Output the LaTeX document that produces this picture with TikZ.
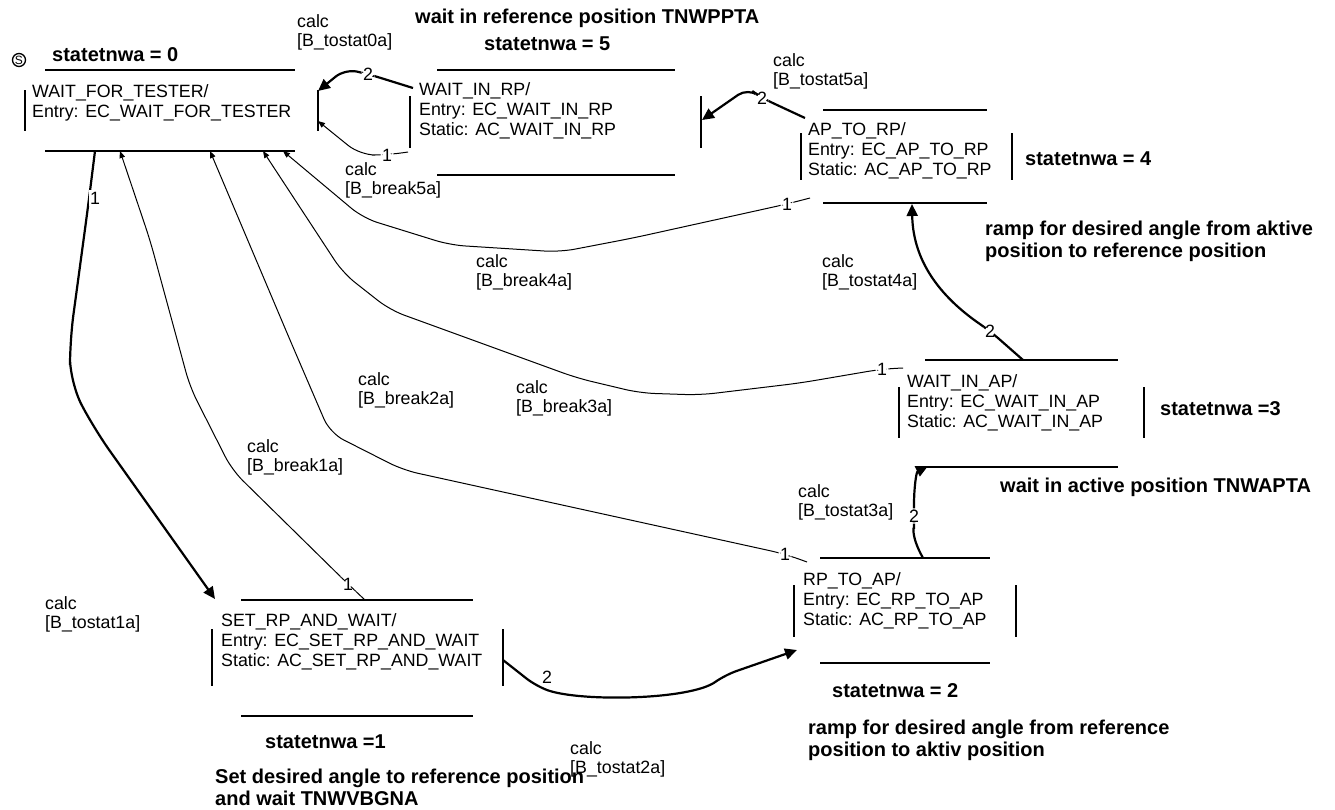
\documentclass[tikz,border=0pt]{standalone}
\usepackage{fontspec}
\setmainfont{Liberation Sans}
\usetikzlibrary{arrows.meta}

\begin{document}
\begin{tikzpicture}[x=1pt,y=-1pt,
		txt/.style={anchor=base west, align=left, inner sep=0pt, font=\fontsize{17.8}{20}\selectfont},
		lbl/.style={anchor=base west, align=left, inner sep=0pt, font=\fontsize{17.8}{19}\selectfont},
		hdr/.style={anchor=base west, align=left, inner sep=0pt, font=\fontsize{20}{22}\selectfont\bfseries},
		num/.style={fill=white, inner sep=1.5pt, font=\fontsize{17.8}{20}\selectfont},
		trans/.style={line width=1pt, rounded corners=15pt, -{Triangle[length=7pt,width=5.5pt]}},
		ttrans/.style={line width=2.2pt, rounded corners=12pt, -{Triangle[length=12pt,width=11pt]}}]
		\useasboundingbox (0,0) rectangle (1335,809);
		
		\foreach \xl/\xa/\xb/\xr/\yt/\yb/\ya/\yc in {
			25/45/295/318/70/151/90/131,
			410/437/675/701/70/175/96/148,
			801/823/987/1012/110/203/133/180,
			899/925/1118/1144/360/467/387/438,
			794/820/990/1016/558/663/585/637,
			212/241/473/503/600/716/629/686
		}{
			\draw[line width=1.2pt] (\xa,\yt) -- (\xb,\yt);
			\draw[line width=1.2pt] (\xa,\yb) -- (\xb,\yb);
			\draw[line width=1.2pt] (\xl,\ya) -- (\xl,\yc);
			\draw[line width=1.2pt] (\xr,\ya) -- (\xr,\yc);
		}
		
		\node[circle, draw, line width=1.3pt, inner sep=0pt, minimum size=13pt, font=\fontsize{12}{12}\selectfont] (start) at (19,60) {S};
		
		\node[txt] (wft) at (32,117) {WAIT\_FOR\_TESTER/\\Entry: EC\_WAIT\_FOR\_TESTER};
		\node[txt] (wrp) at (419,135) {WAIT\_IN\_RP/\\Entry: EC\_WAIT\_IN\_RP\\Static: AC\_WAIT\_IN\_RP};
		\node[txt] (aprp) at (808,175) {AP\_TO\_RP/\\Entry: EC\_AP\_TO\_RP\\Static: AC\_AP\_TO\_RP};
		\node[txt] (wap) at (907,427) {WAIT\_IN\_AP/\\Entry: EC\_WAIT\_IN\_AP\\Static: AC\_WAIT\_IN\_AP};
		\node[txt] (rpap) at (803,625) {RP\_TO\_AP/\\Entry: EC\_RP\_TO\_AP\\Static: AC\_RP\_TO\_AP};
		\node[txt] (setrp) at (221,666) {SET\_RP\_AND\_WAIT/\\Entry: EC\_SET\_RP\_AND\_WAIT\\Static: AC\_SET\_RP\_AND\_WAIT};
		
		\node[hdr] (h0) at (52,61) {statetnwa = 0};
		\node[hdr] (h5t) at (415,23) {wait in reference position TNWPPTA};
		\node[hdr] (h5) at (484,50) {statetnwa = 5};
		\node[hdr] (h4) at (1025,165) {statetnwa = 4};
		\node[hdr] (h4t) at (985,257) {ramp for desired angle from aktive\\position to reference position};
		\node[hdr] (h3) at (1160,415) {statetnwa =3};
		\node[hdr] (h3t) at (1000,492) {wait in active position TNWAPTA};
		\node[hdr] (h2) at (832,697) {statetnwa = 2};
		\node[hdr] (h2t) at (808,756) {ramp for desired angle from reference\\position to aktiv position};
		\node[hdr] (h1) at (265,748) {statetnwa =1};
		\node[hdr] (h1t) at (215,805) {Set desired angle to reference position\\and wait TNWVBGNA};
		
		\node[lbl] (c0) at (297,46) {calc\\{}[B\_tostat0a]};
		\node[lbl] (c5) at (773,85) {calc\\{}[B\_tostat5a]};
		\node[lbl] (c4) at (822,286) {calc\\{}[B\_tostat4a]};
		\node[lbl] (c3) at (798,516) {calc\\{}[B\_tostat3a]};
		\node[lbl] (c2) at (570,773) {calc\\{}[B\_tostat2a]};
		\node[lbl] (c1) at (45,628) {calc\\{}[B\_tostat1a]};
		\node[lbl] (k1) at (247,471) {calc\\{}[B\_break1a]};
		\node[lbl] (k2) at (358,404) {calc\\{}[B\_break2a]};
		\node[lbl] (k3) at (516,412) {calc\\{}[B\_break3a]};
		\node[lbl] (k4) at (476,286) {calc\\{}[B\_break4a]};
		\node[lbl] (k5) at (345,194) {calc\\{}[B\_break5a]};
		
		\coordinate (wft-t0) at (318,91);
		\coordinate (wft-k5) at (318,121);
		\coordinate (wft-t1) at (95,151);
		\coordinate (wft-k1) at (120,151);
		\coordinate (wft-k2) at (210,151);
		\coordinate (wft-k3) at (263,151);
		\coordinate (wft-k4) at (283,151);
		\coordinate (wrp-t0) at (413,88);
		\coordinate (wrp-k5) at (408,152);
		\coordinate (wrp-t5) at (702,120);
		\coordinate (aprp-t5) at (805,118);
		\coordinate (aprp-k4) at (810,198);
		\coordinate (aprp-t4) at (912,204);
		\coordinate (wap-t4) at (1023,360);
		\coordinate (wap-k3) at (903,368);
		\coordinate (wap-t3) at (928,466);
		\coordinate (rpap-t3) at (923,558);
		\coordinate (rpap-k2) at (807,562);
		\coordinate (rpap-t2) at (797,650);
		\coordinate (setrp-t1) at (215,599);
		\coordinate (setrp-k1) at (365,600);
		\coordinate (setrp-t2) at (503,660);
		
		\draw[ttrans] (wrp-t0) -- (368,74) node[num] {2} -- (345,69) -- (wft-t0);
		\draw[ttrans] (aprp-t5) -- (762,98) node[num] {2} -- (748,88) -- (wrp-t5);
		\draw[ttrans] (wap-t4) -- (990,331) node[num] {2} .. controls (945,300) and (913,265) .. (aprp-t4);
		\draw[ttrans] (rpap-t3) .. controls (910,535) and (914,525) .. (914,516) node[num] {2} .. controls (914,490) and (916,472) .. (wap-t3);
		\draw[ttrans] (setrp-t2) -- (536,686) .. controls (580,702) and (690,700) .. (725,675) -- (rpap-t2);
		\node[num, fill=none] (n2) at (547,677) {2};
		\draw[ttrans, rounded corners=25pt] (wft-t1) -- (88,207) -- (70,340) -- (70,383) -- (95,430) -- (setrp-t1);
		\node[num] (n1) at (95,198) {1};
		
		\draw[trans] (setrp-k1) -- (348,584) node[num] {1} -- (232,470) -- (190,387) -- (150,240) -- (wft-k1);
		\draw[trans] (rpap-k2) -- (785,554) node[num] {1} -- (403,470) -- (330,433) -- (290,340) -- (wft-k2);
		\draw[trans] (wap-k3) -- (882,369) node[num] {1} -- (800,383) -- (700,395) -- (640,393) -- (577,378) -- (390,310) -- (343,273) -- (wft-k3);
		\draw[trans] (aprp-k4) -- (787,204) node[num] {1} -- (633,238) -- (560,252) -- (450,245) -- (363,218) -- (wft-k4);
		\draw[trans] (wrp-k5) -- (387,155) node[num] {1} -- (360,155) -- (wft-k5);
	\end{tikzpicture}
\end{document}
